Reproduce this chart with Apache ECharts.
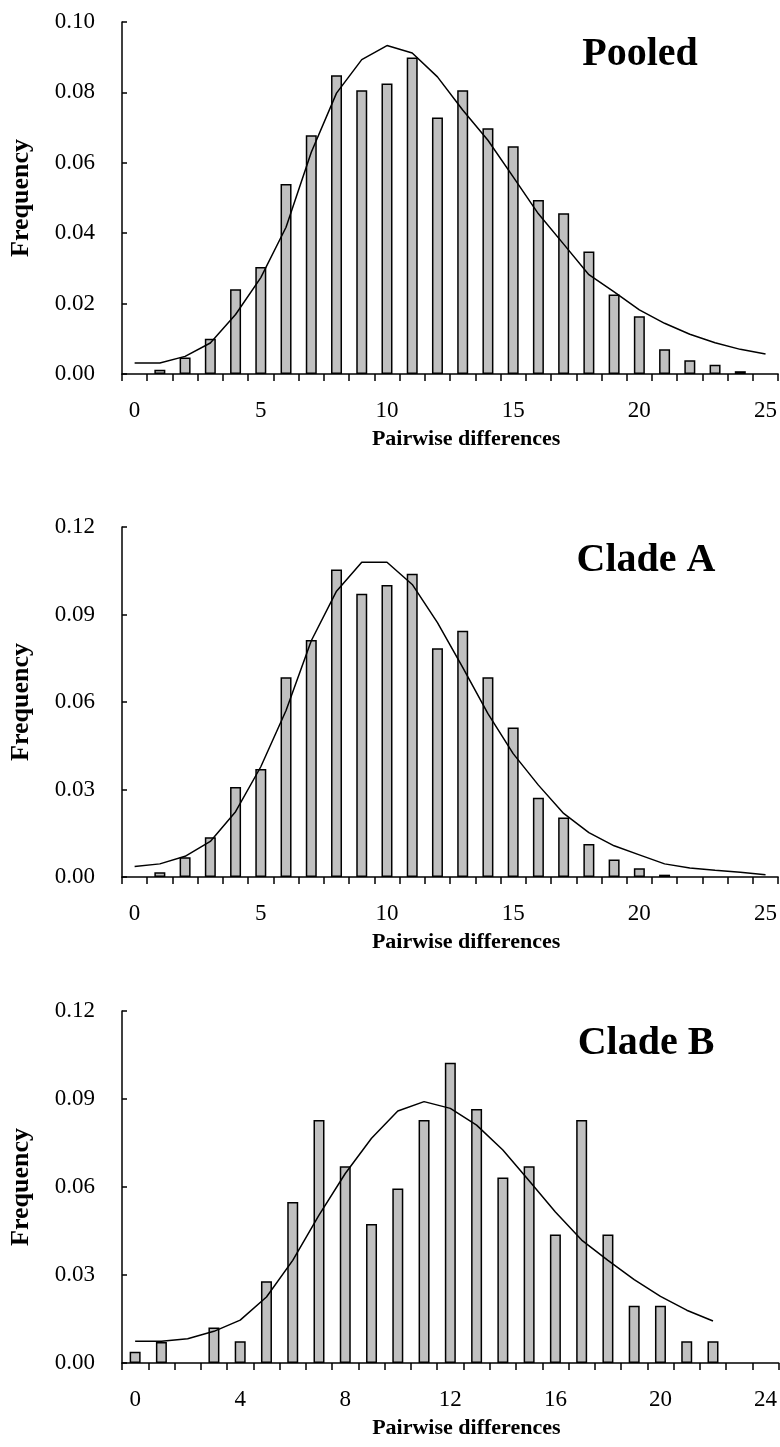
<!DOCTYPE html>
<html>
<head>
<meta charset="utf-8">
<script src="https://cdn.jsdelivr.net/npm/echarts@6/dist/echarts.min.js"></script>
<style>
  html, body { margin: 0; padding: 0; background: #fff; }
  #chart { width: 780px; height: 1447px; }
</style>
</head>
<body>
<div id="chart"></div>
<script>
// mismatch distributions: observed frequencies (bars) and expected (line)
const pooledCats = ['0','1','2','3','4','5','6','7','8','9','10','11','12','13','14','15','16','17','18','19','20','21','22','23','24','25'];
const pooledObs = [0, 0.0012, 0.0047, 0.0100, 0.0241, 0.0304, 0.0540, 0.0678, 0.0849, 0.0806, 0.0825, 0.0899, 0.0729,
  0.0806, 0.0698, 0.0647, 0.0494, 0.0457, 0.0348, 0.0226, 0.0164, 0.0070, 0.0039, 0.0026, 0.0008, 0];
const pooledExp = [0.0031, 0.0031, 0.0050, 0.0088, 0.0169, 0.0274, 0.0417, 0.0630, 0.0798, 0.0893, 0.0933, 0.0912, 0.0844,
  0.0750, 0.0664, 0.0560, 0.0455, 0.0369, 0.0282, 0.0233, 0.0182, 0.0144, 0.0113, 0.0089, 0.0070, 0.0057];

const cladeACats = pooledCats;
const cladeAObs = [0, 0.0016, 0.0068, 0.0136, 0.0309, 0.0370, 0.0685, 0.0813, 0.1054, 0.0971, 0.1001, 0.1040, 0.0784,
  0.0844, 0.0685, 0.0513, 0.0272, 0.0204, 0.0113, 0.0060, 0.0030, 0.0008, 0, 0, 0, 0];
const cladeAExp = [0.0036, 0.0045, 0.0071, 0.0122, 0.0224, 0.0378, 0.0571, 0.0810, 0.0980, 0.1079, 0.1079, 0.1003, 0.0872,
  0.0719, 0.0560, 0.0423, 0.0315, 0.0218, 0.0152, 0.0107, 0.0076, 0.0045, 0.0031, 0.0023, 0.0016, 0.0008];

const cladeBCats = ['0','1','2','3','4','5','6','7','8','9','10','11','12','13','14','15','16','17','18','19','20','21','22','23','24'];
const cladeBObs = [0.0038, 0.0072, 0, 0.0121, 0.0074, 0.0279, 0.0549, 0.0828, 0.0671, 0.0474, 0.0595, 0.0828, 0.1024,
  0.0866, 0.0632, 0.0671, 0.0438, 0.0828, 0.0438, 0.0195, 0.0195, 0.0074, 0.0074, 0, 0];
const cladeBExp = [0.0074, 0.0074, 0.0083, 0.0108, 0.0146, 0.0225, 0.0350, 0.0504, 0.0646, 0.0766, 0.0859, 0.0891, 0.0868,
  0.0811, 0.0726, 0.0621, 0.0515, 0.0419, 0.0350, 0.0284, 0.0227, 0.0180, 0.0143];

const panels = [
  { title: 'Pooled', cats: pooledCats, obs: pooledObs, exp: pooledExp, max: 0.10, step: 0.02, every: 4,
    top: 22, height: 352, titleX: 640, titleY: 55 },
  { title: 'Clade A', cats: cladeACats, obs: cladeAObs, exp: cladeAExp, max: 0.12, step: 0.03, every: 4,
    top: 527, height: 350, titleX: 646, titleY: 561 },
  { title: 'Clade B', cats: cladeBCats, obs: cladeBObs, exp: cladeBExp, max: 0.12, step: 0.03, every: 3,
    top: 1011, height: 352, titleX: 646, titleY: 1044 }
];

const serif = 'Liberation Serif';
const chart = echarts.init(document.getElementById('chart'));

const option = {
  animation: false,
  backgroundColor: '#fff',
  grid: [],
  xAxis: [],
  yAxis: [],
  series: [],
  graphic: []
};

panels.forEach((p, i) => {
  option.grid.push({ left: 121, right: 1, top: p.top, height: p.height, containLabel: false });
  option.xAxis.push({
    type: 'category',
    gridIndex: i,
    data: p.cats,
    name: 'Pairwise differences',
    nameLocation: 'middle',
    nameGap: 54,
    nameTextStyle: { fontFamily: serif, fontWeight: 'bold', fontSize: 22, color: '#000', padding: [0, 0, 0, 32] },
    axisLine: { lineStyle: { color: '#000', width: 1.5 } },
    axisTick: { show: true, interval: 0, length: 7, lineStyle: { color: '#000', width: 1.5 } },
    axisLabel: { interval: p.every, margin: 25, fontFamily: serif, fontSize: 23, color: '#000' },
    splitLine: { show: false }
  });
  option.yAxis.push({
    type: 'value',
    gridIndex: i,
    min: 0,
    max: p.max,
    interval: p.step,
    name: 'Frequency',
    nameLocation: 'middle',
    nameGap: 88,
    nameTextStyle: { fontFamily: serif, fontWeight: 'bold', fontSize: 26, color: '#000' },
    axisLine: { show: true, lineStyle: { color: '#000', width: 1.5 } },
    axisTick: { show: true, inside: true, length: 5, lineStyle: { color: '#000', width: 1.5 } },
    axisLabel: { margin: 27, fontFamily: serif, fontSize: 23, color: '#000', formatter: v => v.toFixed(2) },
    splitLine: { show: false }
  });
  option.series.push({
    type: 'bar',
    xAxisIndex: i,
    yAxisIndex: i,
    data: p.obs.map(v => (v === 0 ? null : v)),
    barWidth: 11,
    itemStyle: { color: '#c0c0c0', borderColor: '#000', borderWidth: 1.5 }
  });
  option.series.push({
    type: 'line',
    xAxisIndex: i,
    yAxisIndex: i,
    data: p.exp,
    symbol: 'none',
    z: 3,
    lineStyle: { color: '#000', width: 1.5 }
  });
  option.graphic.push({
    type: 'text',
    x: p.titleX,
    y: p.titleY,
    style: {
      text: p.title,
      fontFamily: serif,
      fontWeight: 'bold',
      fontSize: 40,
      fill: '#000',
      align: 'center',
      verticalAlign: 'middle'
    }
  });
});

chart.setOption(option);
</script>
</body>
</html>
